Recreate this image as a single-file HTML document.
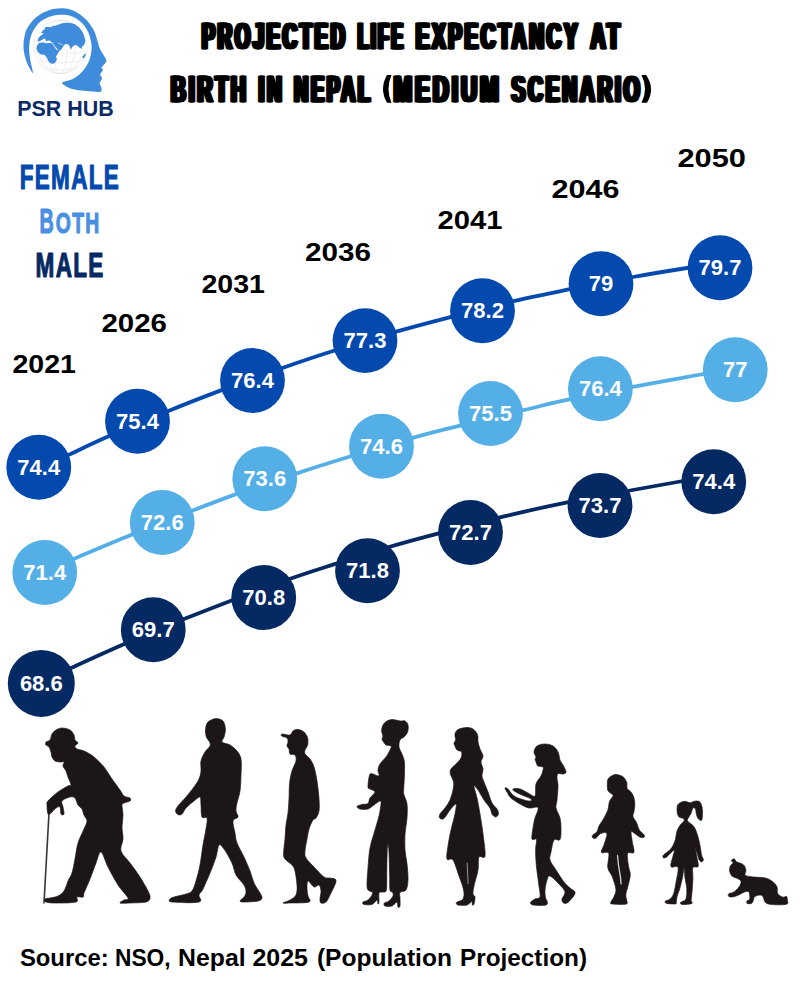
<!DOCTYPE html>
<html><head><meta charset="utf-8"><title>Projected Life Expectancy at Birth in Nepal</title>
<style>
html,body{margin:0;padding:0;background:#fff;}
body{width:800px;height:1000px;overflow:hidden;font-family:"Liberation Sans",sans-serif;}
svg{display:block;}
text{font-family:"Liberation Sans",sans-serif;}
.v{font-weight:bold;font-size:22px;fill:#fff;text-anchor:middle;}
.yr{font-weight:bold;font-size:25px;fill:#000;}
.ttl{font-weight:bold;font-size:37.6px;letter-spacing:5.4px;fill:#000;stroke:#000;stroke-width:0.5px;stroke-linejoin:miter;}
.lg{font-weight:bold;font-size:34.6px;letter-spacing:2px;stroke-width:1.2px;stroke-linejoin:round;}
.lgs{font-weight:bold;font-size:29.4px;letter-spacing:2px;stroke-width:1.2px;stroke-linejoin:round;}
.src{font-weight:bold;font-size:24.6px;fill:#000;}
.logo{font-weight:bold;font-size:22.3px;fill:#0d2b66;}
</style></head><body>
<svg width="800" height="1000" viewBox="0 0 800 1000">
<rect width="800" height="1000" fill="#fff"/>
<!-- logo -->
<path d="M32.9,72.9C32.3,73.3 28.2,66.0 26.7,61.9C25.1,57.8 23.8,52.9 23.5,48.1C23.3,43.3 24.0,37.4 25.3,33.0C26.6,28.6 28.9,25.2 31.5,22.0C34.1,18.8 37.5,15.9 41.1,13.8C44.8,11.6 49.4,9.8 53.5,8.9C57.6,8.1 62.0,8.0 65.9,8.5C69.8,9.1 73.4,10.5 76.9,12.4C80.3,14.3 83.8,17.1 86.5,19.9C89.2,22.8 91.6,26.2 93.4,29.6C95.2,32.9 96.2,36.8 97.2,39.9C98.3,43.0 98.6,45.7 99.6,48.1C100.5,50.5 101.9,52.2 103.0,54.3C104.1,56.4 106.3,58.8 106.4,60.5C106.6,62.2 104.9,63.5 104.1,64.6C103.3,65.8 101.8,66.5 101.6,67.4C101.4,68.3 103.1,69.2 103.0,70.1C102.9,71.0 101.4,72.1 100.9,72.9C100.5,73.7 100.1,74.1 100.2,74.9C100.4,75.7 101.8,76.7 101.9,77.7C102.0,78.7 101.3,80.2 100.9,81.1C100.5,82.0 99.6,82.3 99.6,83.2C99.6,84.1 100.6,85.5 100.9,86.6C101.3,87.8 101.8,89.2 101.6,90.1C101.5,90.9 101.6,91.6 100.0,91.9C98.4,92.1 95.2,91.7 92.0,91.4C88.8,91.2 84.4,90.9 81.0,90.5C77.6,90.0 73.9,89.4 71.4,88.7C68.9,88.0 67.4,87.2 65.9,86.2C64.4,85.2 61.3,83.8 62.4,82.6C63.6,81.4 69.4,80.9 72.8,79.1C76.1,77.2 79.6,74.6 82.4,71.5C85.1,68.4 87.7,64.6 89.2,60.5C90.8,56.4 91.7,51.3 91.6,46.8C91.5,42.2 90.3,37.1 88.6,33.0C86.8,28.9 84.1,24.9 81.0,22.0C77.9,19.1 73.4,17.0 70.0,15.8C66.6,14.6 63.8,14.7 60.4,14.8C56.9,15.0 53.0,15.4 49.4,16.8C45.7,18.2 41.4,20.4 38.4,23.4C35.4,26.3 33.0,30.5 31.5,34.4C30.0,38.3 29.4,42.6 29.2,46.8C28.9,50.9 29.5,54.8 30.1,59.1C30.7,63.5 33.4,72.4 32.9,72.9Z" fill="#3f8bdc"/>
<g fill="none" stroke="#e2e2e2" stroke-width="0.55">
<circle cx="60.4" cy="46.8" r="26.8"/>
<ellipse cx="60.4" cy="46.8" rx="6.7" ry="26.8"/>
<ellipse cx="60.4" cy="46.8" rx="14.7" ry="26.8"/>
<ellipse cx="60.4" cy="46.8" rx="22.0" ry="26.8"/>
<path d="M38.1,32.0 Q60.4,37.0 82.6,32.0"/>
<path d="M34.1,41.4 Q60.4,46.4 86.7,41.4"/>
<path d="M34.1,51.6 Q60.4,56.6 86.7,51.6"/>
<path d="M37.3,60.2 Q60.4,65.2 83.4,60.2"/>
<path d="M43.8,67.7 Q60.4,72.7 77.0,67.7"/>
</g>
<g fill="#3f8bdc">
<path d="M45.4,27.2C46.0,26.9 49.5,27.3 50.3,27.2C51.1,27.1 52.1,26.3 52.8,26.0C53.4,25.8 55.9,25.4 56.8,25.2C57.8,24.9 60.7,23.8 61.7,23.5C62.6,23.3 64.8,22.8 65.8,22.7C66.7,22.7 69.7,22.8 70.6,23.0C71.6,23.1 73.8,23.9 74.7,24.3C75.6,24.8 78.0,26.5 78.8,27.2C79.5,27.9 81.4,30.4 82.0,31.2C82.6,32.1 83.6,34.4 83.9,35.3C84.3,36.2 84.9,38.7 85.1,39.4C85.2,40.1 85.3,41.2 85.2,41.8C85.2,42.4 84.5,44.2 84.3,44.7C84.0,45.1 83.1,45.6 82.8,45.9C82.6,46.1 82.0,46.7 81.8,47.0C81.7,47.3 81.7,48.7 81.5,48.8C81.4,48.9 80.6,48.4 80.4,48.2C80.1,48.1 79.6,47.6 79.3,47.4C79.0,47.2 78.1,46.5 77.8,46.3C77.4,46.0 76.4,45.1 76.0,45.0C75.6,44.9 74.1,45.3 73.7,45.5C73.3,45.8 72.3,47.1 72.0,47.5C71.7,47.9 71.2,49.6 70.9,49.5C70.7,49.5 70.1,47.5 69.9,47.0C69.7,46.5 69.0,45.3 68.8,45.0C68.5,44.7 67.8,44.3 67.5,44.2C67.3,44.0 66.7,43.8 66.4,43.8C66.1,43.9 65.1,44.4 64.8,44.6C64.5,44.8 64.1,45.2 63.8,45.6C63.5,46.0 62.7,47.7 62.3,48.1C62.0,48.6 61.0,50.1 60.5,50.3C60.1,50.5 58.9,50.4 58.4,50.1C57.9,49.8 56.3,47.9 55.8,47.3C55.4,46.8 54.3,45.4 54.0,44.9C53.6,44.4 52.7,43.0 52.3,42.6C52.0,42.3 51.1,41.7 50.7,41.5C50.4,41.3 49.4,40.6 49.1,40.5C48.8,40.4 48.0,40.6 47.7,40.7C47.4,40.8 46.8,41.4 46.6,41.3C46.3,41.2 45.8,40.0 45.6,39.7C45.4,39.4 44.6,38.6 44.3,38.6C44.0,38.5 43.3,39.2 43.0,39.4C42.7,39.5 41.7,39.7 41.4,39.9C41.0,40.1 40.1,41.0 39.8,41.2C39.4,41.3 38.0,41.4 37.8,41.2C37.6,40.9 37.8,39.5 38.0,39.0C38.1,38.6 38.9,37.5 39.3,37.1C39.6,36.7 40.6,35.8 41.0,35.5C41.4,35.2 42.7,34.7 43.0,34.3C43.3,34.0 43.6,33.0 43.8,32.5C44.0,31.9 44.6,30.0 44.8,29.5C45.0,28.9 44.8,27.4 45.4,27.2Z"/>
<path d="M41.4,32.2C41.4,31.9 42.6,30.7 43.0,30.4C43.4,30.2 44.7,29.6 45.0,29.6C45.4,29.7 46.2,30.6 46.2,30.9C46.3,31.2 45.6,32.3 45.3,32.5C44.9,32.8 43.4,33.4 43.0,33.4C42.6,33.3 41.4,32.5 41.4,32.2Z"/>
<path d="M36.9,45.9C37.2,45.3 38.3,43.6 38.9,43.3C39.6,42.9 42.2,42.5 43.0,42.5C43.8,42.5 45.6,43.2 46.2,43.3C46.9,43.3 48.9,43.1 49.5,43.1C50.1,43.1 51.4,42.9 51.9,43.3C52.4,43.6 53.7,45.8 54.2,46.5C54.7,47.2 56.1,49.4 56.6,49.8C57.2,50.2 59.6,49.7 59.7,50.1C59.9,50.5 58.5,52.5 58.1,53.2C57.7,53.9 56.3,55.7 56.2,56.4C56.0,57.1 57.0,59.0 56.8,59.7C56.6,60.4 55.1,62.5 54.5,62.9C54.0,63.4 52.2,64.0 51.6,63.8C51.0,63.7 49.3,62.4 48.8,61.8C48.4,61.2 47.7,59.0 47.2,58.2C46.8,57.5 45.1,55.4 44.5,55.0C43.8,54.6 42.0,54.7 41.4,54.5C40.7,54.2 38.8,53.1 38.3,52.5C37.8,52.0 36.6,49.8 36.5,49.1C36.4,48.4 36.6,46.5 36.9,45.9Z"/>
<path d="M82.4,57.2C82.4,56.9 83.9,55.0 84.3,54.6C84.6,54.3 85.3,53.5 85.5,53.5C85.7,53.5 86.1,54.3 85.9,54.8C85.7,55.3 84.3,58.0 83.9,58.2C83.6,58.5 82.4,57.6 82.4,57.2Z"/>
</g>
<path d="M58.1,42.9 Q60.7,43.6 62.8,45.2" fill="none" stroke="#fff" stroke-width="0.6"/>
<text x="17.3" y="115.6" class="logo" textLength="96.4" lengthAdjust="spacingAndGlyphs">PSR HUB</text>

<!-- title -->
<text x="199.90" y="48.6" class="ttl" textLength="145.9" lengthAdjust="spacingAndGlyphs">PROJECTED</text>
<text x="200.55" y="48.6" class="ttl" textLength="145.9" lengthAdjust="spacingAndGlyphs">PROJECTED</text>
<text x="201.20" y="48.6" class="ttl" textLength="145.9" lengthAdjust="spacingAndGlyphs">PROJECTED</text>
<text x="201.80" y="48.6" class="ttl" textLength="145.9" lengthAdjust="spacingAndGlyphs">PROJECTED</text>
<text x="202.40" y="48.6" class="ttl" textLength="145.9" lengthAdjust="spacingAndGlyphs">PROJECTED</text>
<text x="203.05" y="48.6" class="ttl" textLength="145.9" lengthAdjust="spacingAndGlyphs">PROJECTED</text>
<text x="203.70" y="48.6" class="ttl" textLength="145.9" lengthAdjust="spacingAndGlyphs">PROJECTED</text>
<text x="355.90" y="48.6" class="ttl" textLength="47.6" lengthAdjust="spacingAndGlyphs">LIFE</text>
<text x="356.55" y="48.6" class="ttl" textLength="47.6" lengthAdjust="spacingAndGlyphs">LIFE</text>
<text x="357.20" y="48.6" class="ttl" textLength="47.6" lengthAdjust="spacingAndGlyphs">LIFE</text>
<text x="357.80" y="48.6" class="ttl" textLength="47.6" lengthAdjust="spacingAndGlyphs">LIFE</text>
<text x="358.40" y="48.6" class="ttl" textLength="47.6" lengthAdjust="spacingAndGlyphs">LIFE</text>
<text x="359.05" y="48.6" class="ttl" textLength="47.6" lengthAdjust="spacingAndGlyphs">LIFE</text>
<text x="359.70" y="48.6" class="ttl" textLength="47.6" lengthAdjust="spacingAndGlyphs">LIFE</text>
<text x="413.90" y="48.6" class="ttl" textLength="164.6" lengthAdjust="spacingAndGlyphs">EXPECTANCY</text>
<text x="414.55" y="48.6" class="ttl" textLength="164.6" lengthAdjust="spacingAndGlyphs">EXPECTANCY</text>
<text x="415.20" y="48.6" class="ttl" textLength="164.6" lengthAdjust="spacingAndGlyphs">EXPECTANCY</text>
<text x="415.80" y="48.6" class="ttl" textLength="164.6" lengthAdjust="spacingAndGlyphs">EXPECTANCY</text>
<text x="416.40" y="48.6" class="ttl" textLength="164.6" lengthAdjust="spacingAndGlyphs">EXPECTANCY</text>
<text x="417.05" y="48.6" class="ttl" textLength="164.6" lengthAdjust="spacingAndGlyphs">EXPECTANCY</text>
<text x="417.70" y="48.6" class="ttl" textLength="164.6" lengthAdjust="spacingAndGlyphs">EXPECTANCY</text>
<text x="588.80" y="48.6" class="ttl" textLength="32.0" lengthAdjust="spacingAndGlyphs">AT</text>
<text x="589.45" y="48.6" class="ttl" textLength="32.0" lengthAdjust="spacingAndGlyphs">AT</text>
<text x="590.10" y="48.6" class="ttl" textLength="32.0" lengthAdjust="spacingAndGlyphs">AT</text>
<text x="590.70" y="48.6" class="ttl" textLength="32.0" lengthAdjust="spacingAndGlyphs">AT</text>
<text x="591.30" y="48.6" class="ttl" textLength="32.0" lengthAdjust="spacingAndGlyphs">AT</text>
<text x="591.95" y="48.6" class="ttl" textLength="32.0" lengthAdjust="spacingAndGlyphs">AT</text>
<text x="592.60" y="48.6" class="ttl" textLength="32.0" lengthAdjust="spacingAndGlyphs">AT</text>
<text x="169.05" y="102.2" class="ttl" textLength="77.8" lengthAdjust="spacingAndGlyphs">BIRTH</text>
<text x="169.70" y="102.2" class="ttl" textLength="77.8" lengthAdjust="spacingAndGlyphs">BIRTH</text>
<text x="170.35" y="102.2" class="ttl" textLength="77.8" lengthAdjust="spacingAndGlyphs">BIRTH</text>
<text x="170.95" y="102.2" class="ttl" textLength="77.8" lengthAdjust="spacingAndGlyphs">BIRTH</text>
<text x="171.55" y="102.2" class="ttl" textLength="77.8" lengthAdjust="spacingAndGlyphs">BIRTH</text>
<text x="172.20" y="102.2" class="ttl" textLength="77.8" lengthAdjust="spacingAndGlyphs">BIRTH</text>
<text x="172.85" y="102.2" class="ttl" textLength="77.8" lengthAdjust="spacingAndGlyphs">BIRTH</text>
<text x="256.80" y="102.2" class="ttl" textLength="25.8" lengthAdjust="spacingAndGlyphs">IN</text>
<text x="257.45" y="102.2" class="ttl" textLength="25.8" lengthAdjust="spacingAndGlyphs">IN</text>
<text x="258.10" y="102.2" class="ttl" textLength="25.8" lengthAdjust="spacingAndGlyphs">IN</text>
<text x="258.70" y="102.2" class="ttl" textLength="25.8" lengthAdjust="spacingAndGlyphs">IN</text>
<text x="259.30" y="102.2" class="ttl" textLength="25.8" lengthAdjust="spacingAndGlyphs">IN</text>
<text x="259.95" y="102.2" class="ttl" textLength="25.8" lengthAdjust="spacingAndGlyphs">IN</text>
<text x="260.60" y="102.2" class="ttl" textLength="25.8" lengthAdjust="spacingAndGlyphs">IN</text>
<text x="292.30" y="102.2" class="ttl" textLength="78.5" lengthAdjust="spacingAndGlyphs">NEPAL</text>
<text x="292.95" y="102.2" class="ttl" textLength="78.5" lengthAdjust="spacingAndGlyphs">NEPAL</text>
<text x="293.60" y="102.2" class="ttl" textLength="78.5" lengthAdjust="spacingAndGlyphs">NEPAL</text>
<text x="294.20" y="102.2" class="ttl" textLength="78.5" lengthAdjust="spacingAndGlyphs">NEPAL</text>
<text x="294.80" y="102.2" class="ttl" textLength="78.5" lengthAdjust="spacingAndGlyphs">NEPAL</text>
<text x="295.45" y="102.2" class="ttl" textLength="78.5" lengthAdjust="spacingAndGlyphs">NEPAL</text>
<text x="296.10" y="102.2" class="ttl" textLength="78.5" lengthAdjust="spacingAndGlyphs">NEPAL</text>
<text x="391.80" y="102.2" class="ttl" textLength="108.0" lengthAdjust="spacingAndGlyphs">MEDIUM</text>
<text x="392.45" y="102.2" class="ttl" textLength="108.0" lengthAdjust="spacingAndGlyphs">MEDIUM</text>
<text x="393.10" y="102.2" class="ttl" textLength="108.0" lengthAdjust="spacingAndGlyphs">MEDIUM</text>
<text x="393.70" y="102.2" class="ttl" textLength="108.0" lengthAdjust="spacingAndGlyphs">MEDIUM</text>
<text x="394.30" y="102.2" class="ttl" textLength="108.0" lengthAdjust="spacingAndGlyphs">MEDIUM</text>
<text x="394.95" y="102.2" class="ttl" textLength="108.0" lengthAdjust="spacingAndGlyphs">MEDIUM</text>
<text x="395.60" y="102.2" class="ttl" textLength="108.0" lengthAdjust="spacingAndGlyphs">MEDIUM</text>
<text x="509.80" y="102.2" class="ttl" textLength="130.8" lengthAdjust="spacingAndGlyphs">SCENARIO</text>
<text x="510.45" y="102.2" class="ttl" textLength="130.8" lengthAdjust="spacingAndGlyphs">SCENARIO</text>
<text x="511.10" y="102.2" class="ttl" textLength="130.8" lengthAdjust="spacingAndGlyphs">SCENARIO</text>
<text x="511.70" y="102.2" class="ttl" textLength="130.8" lengthAdjust="spacingAndGlyphs">SCENARIO</text>
<text x="512.30" y="102.2" class="ttl" textLength="130.8" lengthAdjust="spacingAndGlyphs">SCENARIO</text>
<text x="512.95" y="102.2" class="ttl" textLength="130.8" lengthAdjust="spacingAndGlyphs">SCENARIO</text>
<text x="513.60" y="102.2" class="ttl" textLength="130.8" lengthAdjust="spacingAndGlyphs">SCENARIO</text>
<path d="M387,75 Q379,89 387,102.8 L391.5,102.8 Q385.5,89 391.5,75 Z" fill="#000"/>
<path d="M641.5,75 L646.2,75 Q655.5,89 647,102.8 L641.5,102.8 Q648.5,89 641.5,75 Z" fill="#000"/>

<!-- legend -->

<text x="19.8" y="189.3" class="lg" fill="#0449ae" stroke="#0449ae" textLength="100.2" lengthAdjust="spacingAndGlyphs">FEMALE</text>
<text x="39.6" y="232.9" class="lg" fill="#4a90e2" stroke="#4a90e2" textLength="15.4" lengthAdjust="spacingAndGlyphs">B</text>
<text x="55.8" y="232.9" class="lgs" fill="#4a90e2" stroke="#4a90e2" textLength="44.8" lengthAdjust="spacingAndGlyphs">OTH</text>
<text x="35.6" y="276.9" class="lg" fill="#042963" stroke="#042963" textLength="69" lengthAdjust="spacingAndGlyphs">MALE</text>

<!-- years -->
<text x="12.5" y="372.7" class="yr" textLength="63.5" lengthAdjust="spacingAndGlyphs">2021</text>
<text x="101.5" y="332.2" class="yr" textLength="65.5" lengthAdjust="spacingAndGlyphs">2026</text>
<text x="201.5" y="293.2" class="yr" textLength="63.5" lengthAdjust="spacingAndGlyphs">2031</text>
<text x="305.0" y="261.2" class="yr" textLength="66.0" lengthAdjust="spacingAndGlyphs">2036</text>
<text x="437.5" y="228.7" class="yr" textLength="65.0" lengthAdjust="spacingAndGlyphs">2041</text>
<text x="551.5" y="198.2" class="yr" textLength="68.0" lengthAdjust="spacingAndGlyphs">2046</text>
<text x="677.5" y="166.7" class="yr" textLength="68.5" lengthAdjust="spacingAndGlyphs">2050</text>

<!-- series -->
<path fill="none" stroke="#0449ae" stroke-width="3.8" d="M38.8,469.2C43.7,466.8 57.1,460.3 68.6,454.9C80.1,449.5 91.4,444.0 108.0,436.6C124.6,429.3 149.6,418.7 168.4,411.0C187.2,403.3 201.9,397.6 220.9,390.4C239.9,383.2 263.6,374.6 282.4,368.0C301.2,361.4 314.8,356.8 333.8,350.8C352.7,344.7 376.7,337.3 396.1,331.7C415.5,326.1 430.8,322.2 450.4,317.1C470.0,312.0 493.6,305.9 513.5,301.2C533.4,296.6 549.8,293.3 569.8,289.2C589.7,285.2 613.5,280.5 633.0,277.0C652.5,273.5 672.5,270.3 687.0,268.0C701.5,265.7 714.5,263.8 720.0,263.0"/>
<circle cx="38.75" cy="467.25" r="32.4" fill="#0449ae"/><text x="38.75" y="474.85" class="v">74.4</text>
<circle cx="137.50" cy="421.25" r="32.4" fill="#0449ae"/><text x="137.50" y="428.85" class="v">75.4</text>
<circle cx="252.50" cy="380.50" r="32.4" fill="#0449ae"/><text x="252.50" y="388.10" class="v">76.4</text>
<circle cx="365.00" cy="340.60" r="32.4" fill="#0449ae"/><text x="365.00" y="348.20" class="v">77.3</text>
<circle cx="482.50" cy="310.75" r="32.4" fill="#0449ae"/><text x="482.50" y="318.35" class="v">78.2</text>
<circle cx="601.00" cy="283.75" r="32.4" fill="#0449ae"/><text x="601.00" y="291.35" class="v">79</text>
<circle cx="720.00" cy="267.75" r="32.4" fill="#0449ae"/><text x="720.00" y="275.35" class="v">79.7</text>
<path fill="none" stroke="#53afe6" stroke-width="3.8" d="M44.8,571.3C49.8,569.1 60.4,564.5 74.9,558.4C89.4,552.3 111.9,542.7 131.5,534.8C151.1,526.8 174.9,517.4 192.4,510.6C209.9,503.8 218.9,500.3 236.2,494.1C253.6,487.9 277.8,479.7 296.8,473.4C315.7,467.1 330.7,462.4 350.0,456.5C369.3,450.6 394.4,442.9 412.8,437.8C431.1,432.6 441.6,430.2 460.0,425.6C478.4,421.0 505.1,414.6 523.2,410.2C541.4,405.9 549.9,403.5 569.0,399.4C588.1,395.3 616.5,390.0 638.0,385.9C659.5,381.8 681.8,377.9 698.0,375.0C714.2,372.1 728.8,369.8 735.0,368.8"/>
<circle cx="44.75" cy="572.50" r="32.4" fill="#53afe6"/><text x="44.75" y="580.10" class="v">71.4</text>
<circle cx="162.25" cy="522.50" r="32.4" fill="#53afe6"/><text x="162.25" y="530.10" class="v">72.6</text>
<circle cx="264.75" cy="478.75" r="32.4" fill="#53afe6"/><text x="264.75" y="486.35" class="v">73.6</text>
<circle cx="381.50" cy="446.25" r="32.4" fill="#53afe6"/><text x="381.50" y="453.85" class="v">74.6</text>
<circle cx="490.50" cy="413.50" r="32.4" fill="#53afe6"/><text x="490.50" y="421.10" class="v">75.5</text>
<circle cx="600.40" cy="388.75" r="32.4" fill="#53afe6"/><text x="600.40" y="396.35" class="v">76.4</text>
<circle cx="735.25" cy="369.75" r="32.4" fill="#53afe6"/><text x="735.25" y="377.35" class="v">77</text>
<path fill="none" stroke="#042963" stroke-width="3.8" d="M41.2,681.8C46.3,679.5 57.8,674.0 71.5,667.8C85.2,661.5 104.5,652.6 123.2,644.5C142.0,636.4 165.9,626.5 184.0,619.1C202.1,611.8 213.8,607.2 231.6,600.4C249.4,593.6 273.7,584.6 291.0,578.5C308.3,572.4 318.8,569.2 335.2,563.9C351.7,558.6 372.7,551.8 389.8,546.8C406.8,541.7 418.5,538.7 437.8,533.6C457.0,528.5 483.8,521.4 505.0,516.2C526.2,511.1 544.2,507.0 565.0,502.8C585.8,498.5 610.8,494.0 630.0,490.5C649.2,487.0 666.3,483.9 680.2,481.5C694.2,479.1 708.2,476.8 713.8,475.8"/>
<circle cx="41.30" cy="683.40" r="33.5" fill="#042963"/><text x="41.30" y="691.00" class="v">68.6</text>
<circle cx="153.25" cy="629.75" r="32.4" fill="#042963"/><text x="153.25" y="637.35" class="v">69.7</text>
<circle cx="263.75" cy="597.50" r="32.4" fill="#042963"/><text x="263.75" y="605.10" class="v">70.8</text>
<circle cx="367.50" cy="570.75" r="32.4" fill="#042963"/><text x="367.50" y="578.35" class="v">71.8</text>
<circle cx="470.50" cy="532.50" r="32.4" fill="#042963"/><text x="470.50" y="540.10" class="v">72.7</text>
<circle cx="600.00" cy="505.50" r="32.4" fill="#042963"/><text x="600.00" y="513.10" class="v">73.7</text>
<circle cx="713.75" cy="481.75" r="32.4" fill="#042963"/><text x="713.75" y="489.35" class="v">74.4</text>

<!-- silhouettes -->
<defs><filter id="soft" x="-0.05" y="-0.05" width="1.1" height="1.1"><feGaussianBlur stdDeviation="0.45"/></filter></defs>
<g filter="url(#soft)">
<g fill="#1b1919" stroke="#1b1919" stroke-width="0.7" stroke-linejoin="round">
<path d="M62.0,728.0C64.3,728.0 68.0,728.8 70.0,730.0C72.0,731.2 73.2,733.3 74.0,735.0C74.8,736.7 74.3,738.7 75.0,740.0C75.7,741.3 78.0,742.0 78.0,743.0C78.0,744.0 75.2,745.0 75.0,746.0C74.8,747.0 75.5,748.2 77.0,749.0C78.5,749.8 81.2,749.7 84.0,751.0C86.8,752.3 90.7,754.3 94.0,757.0C97.3,759.7 101.0,763.3 104.0,767.0C107.0,770.7 109.3,775.2 112.0,779.0C114.7,782.8 118.0,787.2 120.0,790.0C122.0,792.8 122.3,794.7 124.0,796.0C125.7,797.3 129.0,797.2 130.0,798.0C131.0,798.8 131.0,800.2 130.0,801.0C129.0,801.8 125.3,802.3 124.0,803.0C122.7,803.7 122.2,803.0 122.0,805.0C121.8,807.0 123.0,811.3 123.0,815.0C123.0,818.7 122.0,823.0 122.0,827.0C122.0,831.0 123.2,835.0 123.0,839.0C122.8,843.0 119.8,847.0 121.0,851.0C122.2,855.0 126.8,858.7 130.0,863.0C133.2,867.3 137.0,872.3 140.0,877.0C143.0,881.7 146.3,887.5 148.0,891.0C149.7,894.5 150.3,896.2 150.0,898.0C149.7,899.8 149.3,901.2 146.0,902.0C142.7,902.8 134.3,902.8 130.0,903.0C125.7,903.2 121.0,903.5 120.0,903.0C119.0,902.5 122.7,900.8 124.0,900.0C125.3,899.2 129.0,900.5 128.0,898.0C127.0,895.5 121.3,890.2 118.0,885.0C114.7,879.8 110.8,872.5 108.0,867.0C105.2,861.5 103.0,852.7 101.0,852.0C99.0,851.3 97.8,858.5 96.0,863.0C94.2,867.5 92.0,874.0 90.0,879.0C88.0,884.0 85.2,890.0 84.0,893.0C82.8,896.0 84.2,896.3 83.0,897.0C81.8,897.7 78.2,896.2 77.0,897.0C75.8,897.8 79.5,901.0 76.0,902.0C72.5,903.0 61.0,903.0 56.0,903.0C51.0,903.0 47.8,902.7 46.0,902.0C44.2,901.3 44.3,899.7 45.0,899.0C45.7,898.3 47.8,898.5 50.0,898.0C52.2,897.5 55.7,897.2 58.0,896.0C60.3,894.8 62.3,893.5 64.0,891.0C65.7,888.5 66.7,884.0 68.0,881.0C69.3,878.0 70.8,876.7 72.0,873.0C73.2,869.3 74.0,864.0 75.0,859.0C76.0,854.0 76.5,848.0 78.0,843.0C79.5,838.0 82.5,832.7 84.0,829.0C85.5,825.3 87.0,823.3 87.0,821.0C87.0,818.7 84.8,817.0 84.0,815.0C83.2,813.0 83.0,810.7 82.0,809.0C81.0,807.3 79.2,806.8 78.0,805.0C76.8,803.2 76.3,799.3 75.0,798.0C73.7,796.7 72.2,796.5 70.0,797.0C67.8,797.5 63.2,799.3 62.0,801.0C60.8,802.7 62.7,804.8 63.0,807.0C63.3,809.2 64.3,812.8 64.0,814.0C63.7,815.2 61.7,815.2 61.0,814.0C60.3,812.8 60.8,808.0 60.0,807.0C59.2,806.0 57.5,807.0 56.0,808.0C54.5,809.0 52.3,812.0 51.0,813.0C49.7,814.0 48.7,815.3 48.0,814.0C47.3,812.7 47.0,807.2 47.0,805.0C47.0,802.8 46.2,803.2 48.0,801.0C49.8,798.8 54.7,794.5 58.0,792.0C61.3,789.5 65.8,787.2 68.0,786.0C70.2,784.8 71.0,786.5 71.0,785.0C71.0,783.5 68.8,779.3 68.0,777.0C67.2,774.7 66.8,772.8 66.0,771.0C65.2,769.2 63.3,767.5 63.0,766.0C62.7,764.5 64.5,762.7 64.0,762.0C63.5,761.3 61.5,762.2 60.0,762.0C58.5,761.8 56.3,761.8 55.0,761.0C53.7,760.2 52.7,758.5 52.0,757.0C51.3,755.5 51.5,753.7 51.0,752.0C50.5,750.3 49.8,748.2 49.0,747.0C48.2,745.8 46.5,745.8 46.0,745.0C45.5,744.2 45.3,742.8 46.0,742.0C46.7,741.2 49.0,741.3 50.0,740.0C51.0,738.7 51.0,735.7 52.0,734.0C53.0,732.3 54.3,731.0 56.0,730.0C57.7,729.0 59.7,728.0 62.0,728.0Z"/>
<path d="M215.6,718.6C218.1,718.4 221.4,719.3 223.0,721.0C224.6,722.7 225.2,726.3 225.4,729.0C225.6,731.7 224.6,734.8 224.0,737.0C223.4,739.2 221.0,740.7 222.0,742.0C223.0,743.3 227.5,743.5 230.0,745.0C232.5,746.5 235.2,748.7 237.0,751.0C238.8,753.3 240.3,755.0 241.0,759.0C241.7,763.0 241.2,769.7 241.0,775.0C240.8,780.3 240.7,786.3 240.0,791.0C239.3,795.7 237.7,799.7 237.0,803.0C236.3,806.3 235.8,808.7 236.0,811.0C236.2,813.3 238.5,815.3 238.0,817.0C237.5,818.7 233.5,818.3 233.0,821.0C232.5,823.7 234.3,829.3 235.0,833.0C235.7,836.7 235.5,839.0 237.0,843.0C238.5,847.0 241.8,852.3 244.0,857.0C246.2,861.7 248.3,866.7 250.0,871.0C251.7,875.3 252.3,879.3 254.0,883.0C255.7,886.7 258.7,890.5 260.0,893.0C261.3,895.5 262.3,896.7 262.0,898.0C261.7,899.3 261.0,900.3 258.0,901.0C255.0,901.7 247.0,902.0 244.0,902.0C241.0,902.0 240.0,901.8 240.0,901.0C240.0,900.2 243.0,898.5 244.0,897.0C245.0,895.5 246.0,894.0 246.0,892.0C246.0,890.0 245.7,887.8 244.0,885.0C242.3,882.2 238.0,878.7 236.0,875.0C234.0,871.3 234.0,867.3 232.0,863.0C230.0,858.7 226.2,852.0 224.0,849.0C221.8,846.0 220.3,843.7 219.0,845.0C217.7,846.3 217.5,852.3 216.0,857.0C214.5,861.7 212.2,867.7 210.0,873.0C207.8,878.3 204.8,885.3 203.0,889.0C201.2,892.7 199.7,892.8 199.0,895.0C198.3,897.2 203.5,900.8 199.0,902.0C194.5,903.2 176.8,902.5 172.0,902.0C167.2,901.5 169.7,899.8 170.0,899.0C170.3,898.2 171.3,897.8 174.0,897.0C176.7,896.2 183.0,895.0 186.0,894.0C189.0,893.0 190.3,893.2 192.0,891.0C193.7,888.8 194.7,885.3 196.0,881.0C197.3,876.7 198.8,871.0 200.0,865.0C201.2,859.0 202.0,851.0 203.0,845.0C204.0,839.0 205.3,833.5 206.0,829.0C206.7,824.5 207.7,820.0 207.0,818.0C206.3,816.0 203.0,819.2 202.0,817.0C201.0,814.8 201.3,808.3 201.0,805.0C200.7,801.7 201.2,797.7 200.0,797.0C198.8,796.3 196.3,799.2 194.0,801.0C191.7,802.8 188.0,805.8 186.0,808.0C184.0,810.2 183.3,812.9 182.0,814.0C180.7,815.1 179.1,815.1 178.0,814.6C176.9,814.1 175.6,812.4 175.6,811.0C175.6,809.6 176.3,808.3 178.0,806.0C179.7,803.7 183.3,800.2 186.0,797.0C188.7,793.8 191.8,790.0 194.0,787.0C196.2,784.0 197.8,781.7 199.0,779.0C200.2,776.3 200.7,774.0 201.0,771.0C201.3,768.0 200.3,764.2 201.0,761.0C201.7,757.8 203.5,754.5 205.0,752.0C206.5,749.5 209.2,747.7 210.0,746.0C210.8,744.3 210.2,743.5 209.6,742.0C209.0,740.5 207.1,739.2 206.4,737.0C205.7,734.8 205.3,731.5 205.6,729.0C205.9,726.5 206.3,723.7 208.0,722.0C209.7,720.3 213.1,718.8 215.6,718.6Z"/>
<path d="M298.0,729.4C299.8,729.6 302.4,730.6 304.0,732.0C305.6,733.4 307.0,735.8 307.6,738.0C308.2,740.2 308.0,743.0 307.6,745.0C307.2,747.0 305.4,748.5 305.0,750.0C304.6,751.5 304.2,752.5 305.0,754.0C305.8,755.5 308.5,756.8 310.0,759.0C311.5,761.2 312.8,763.3 314.0,767.0C315.2,770.7 316.2,775.7 317.0,781.0C317.8,786.3 318.7,794.0 319.0,799.0C319.3,804.0 319.5,807.8 319.0,811.0C318.5,814.2 317.0,816.5 316.0,818.0C315.0,819.5 314.2,818.2 313.0,820.0C311.8,821.8 310.0,825.8 309.0,829.0C308.0,832.2 307.7,835.3 307.0,839.0C306.3,842.7 305.2,847.8 305.0,851.0C304.8,854.2 304.5,855.3 306.0,858.0C307.5,860.7 311.0,863.8 314.0,867.0C317.0,870.2 321.5,875.2 324.0,877.0C326.5,878.8 327.2,877.7 329.0,878.0C330.8,878.3 333.9,878.2 335.0,879.0C336.1,879.8 336.4,880.3 335.6,883.0C334.8,885.7 331.6,891.8 330.0,895.0C328.4,898.2 327.5,900.7 326.0,902.0C324.5,903.3 322.0,903.5 321.0,903.0C320.0,902.5 320.0,901.0 320.0,899.0C320.0,897.0 321.2,893.3 321.0,891.0C320.8,888.7 320.2,885.7 319.0,885.0C317.8,884.3 315.8,887.7 314.0,887.0C312.2,886.3 309.2,880.7 308.0,881.0C306.8,881.3 307.0,886.5 307.0,889.0C307.0,891.5 307.7,893.8 308.0,896.0C308.3,898.2 312.0,900.8 309.0,902.0C306.0,903.2 294.3,902.8 290.0,903.0C285.7,903.2 283.0,903.5 283.0,903.0C283.0,902.5 287.8,901.3 290.0,900.0C292.2,898.7 294.8,897.5 296.0,895.0C297.2,892.5 297.2,889.0 297.0,885.0C296.8,881.0 295.8,874.3 295.0,871.0C294.2,867.7 293.7,867.0 292.0,865.0C290.3,863.0 286.4,861.0 285.0,859.0C283.6,857.0 283.6,856.3 283.6,853.0C283.6,849.7 284.6,843.7 285.0,839.0C285.4,834.3 285.5,829.3 286.0,825.0C286.5,820.7 287.5,817.3 288.0,813.0C288.5,808.7 288.7,804.0 289.0,799.0C289.3,794.0 289.1,787.7 289.6,783.0C290.1,778.3 290.9,774.7 292.0,771.0C293.1,767.3 295.5,763.7 296.0,761.0C296.5,758.3 296.0,756.2 295.0,755.0C294.0,753.8 291.0,755.0 290.0,754.0C289.0,753.0 289.5,750.3 289.0,749.0C288.5,747.7 287.2,747.2 287.0,746.0C286.8,744.8 288.0,743.3 288.0,742.0C288.0,740.7 288.1,739.0 287.0,738.0C285.9,737.0 282.4,736.7 281.6,736.0C280.8,735.3 281.0,734.2 282.4,734.0C283.8,733.8 288.2,735.5 290.0,735.0C291.8,734.5 291.7,731.9 293.0,731.0C294.3,730.1 296.2,729.2 298.0,729.4Z"/>
<path d="M393.0,719.6C395.2,719.6 398.0,720.8 400.0,721.0C402.0,721.2 403.7,720.3 405.0,721.0C406.3,721.7 407.6,723.2 408.0,725.0C408.4,726.8 408.3,730.0 407.6,732.0C406.9,734.0 405.3,735.7 404.0,737.0C402.7,738.3 400.8,738.3 400.0,740.0C399.2,741.7 398.7,744.7 399.0,747.0C399.3,749.3 401.1,751.5 402.0,754.0C402.9,756.5 404.0,758.3 404.4,762.0C404.8,765.7 404.5,771.3 404.4,776.0C404.3,780.7 403.7,786.8 403.6,790.0C403.5,793.2 403.4,792.7 404.0,795.0C404.6,797.3 406.5,800.2 407.0,804.0C407.5,807.8 407.3,813.0 407.0,818.0C406.7,823.0 405.3,828.7 405.0,834.0C404.7,839.3 404.7,845.0 405.0,850.0C405.3,855.0 406.5,859.0 407.0,864.0C407.5,869.0 408.2,875.7 408.0,880.0C407.8,884.3 407.3,887.9 406.0,890.0C404.7,892.1 401.0,891.1 400.0,892.4C399.0,893.7 400.0,895.7 400.0,898.0C400.0,900.3 400.3,904.5 400.0,906.0C399.7,907.5 398.5,907.7 398.0,907.0C397.5,906.3 398.0,902.2 397.0,902.0C396.0,901.8 394.0,905.3 392.0,906.0C390.0,906.7 386.3,906.5 385.0,906.0C383.7,905.5 383.7,903.8 384.4,903.0C385.1,902.2 387.6,902.2 389.0,901.0C390.4,899.8 392.4,897.5 393.0,896.0C393.6,894.5 392.9,893.0 392.4,892.0C391.9,891.0 390.5,893.0 390.0,890.0C389.5,887.0 389.8,880.0 389.6,874.0C389.4,868.0 389.3,859.0 389.0,854.0C388.7,849.0 388.3,844.0 388.0,844.0C387.7,844.0 387.4,849.0 387.2,854.0C387.0,859.0 386.9,868.0 386.8,874.0C386.7,880.0 387.0,887.0 386.4,890.0C385.8,893.0 384.2,891.5 383.0,892.0C381.8,892.5 379.7,891.3 379.0,893.0C378.3,894.7 379.2,900.2 379.0,902.0C378.8,903.8 378.3,904.3 378.0,904.0C377.7,903.7 378.0,899.9 377.0,900.0C376.0,900.1 374.2,903.7 372.0,904.4C369.8,905.1 365.5,904.8 364.0,904.4C362.5,904.0 362.3,902.7 363.0,902.0C363.7,901.3 366.5,901.2 368.0,900.0C369.5,898.8 371.3,896.3 372.0,895.0C372.7,893.7 372.7,892.8 372.0,892.0C371.3,891.2 368.8,891.3 368.0,890.0C367.2,888.7 367.0,887.7 367.0,884.0C367.0,880.3 367.5,874.0 368.0,868.0C368.5,862.0 368.8,854.3 370.0,848.0C371.2,841.7 373.5,835.3 375.0,830.0C376.5,824.7 378.0,820.3 379.0,816.0C380.0,811.7 380.8,806.5 381.0,804.0C381.2,801.5 381.2,800.8 380.0,801.0C378.8,801.2 376.0,803.7 374.0,805.0C372.0,806.3 370.3,808.3 368.0,809.0C365.7,809.7 361.8,809.4 360.0,809.0C358.2,808.6 356.7,807.2 357.0,806.4C357.3,805.6 360.2,804.9 362.0,804.4C363.8,803.9 366.7,804.7 368.0,803.6C369.3,802.5 368.8,799.9 370.0,798.0C371.2,796.1 375.0,793.5 375.0,792.0C375.0,790.5 371.2,789.8 370.0,789.0C368.8,788.2 368.1,789.3 368.0,787.0C367.9,784.7 368.8,777.2 369.6,775.0C370.4,772.8 371.4,773.8 373.0,774.0C374.6,774.2 378.2,776.7 379.0,776.0C379.8,775.3 377.8,772.0 378.0,770.0C378.2,768.0 378.7,766.2 380.0,764.0C381.3,761.8 384.3,759.3 386.0,757.0C387.7,754.7 389.2,751.8 390.0,750.0C390.8,748.2 391.7,746.8 391.0,746.0C390.3,745.2 387.2,745.7 386.0,745.0C384.8,744.3 384.3,743.0 383.6,742.0C382.9,741.0 382.1,740.0 382.0,739.0C381.9,738.0 383.1,737.3 383.0,736.0C382.9,734.7 381.6,732.8 381.6,731.0C381.6,729.2 382.1,726.7 383.0,725.0C383.9,723.3 385.3,721.9 387.0,721.0C388.7,720.1 390.8,719.6 393.0,719.6Z"/>
<path d="M466.0,727.6C468.5,727.5 471.1,727.8 473.0,729.0C474.9,730.2 476.8,732.8 477.6,735.0C478.4,737.2 477.6,739.7 478.0,742.0C478.4,744.3 479.2,746.7 480.0,749.0C480.8,751.3 482.8,753.8 483.0,756.0C483.2,758.2 481.0,759.8 481.0,762.0C481.0,764.2 482.8,766.7 483.0,769.0C483.2,771.3 481.8,773.8 482.0,776.0C482.2,778.2 483.0,779.3 484.0,782.0C485.0,784.7 486.7,788.5 488.0,792.0C489.3,795.5 490.5,800.2 492.0,803.0C493.5,805.8 495.9,807.2 497.0,809.0C498.1,810.8 498.6,812.7 498.4,814.0C498.2,815.3 496.7,817.0 495.6,817.0C494.5,817.0 492.9,815.5 492.0,814.0C491.1,812.5 491.3,810.3 490.0,808.0C488.7,805.7 486.0,803.0 484.0,800.0C482.0,797.0 479.7,792.3 478.0,790.0C476.3,787.7 474.2,784.7 474.0,786.0C473.8,787.3 476.0,793.3 477.0,798.0C478.0,802.7 479.0,808.0 480.0,814.0C481.0,820.0 482.2,827.0 483.0,834.0C483.8,841.0 485.7,852.2 485.0,856.0C484.3,859.8 480.2,854.7 479.0,857.0C477.8,859.3 478.8,865.2 478.0,870.0C477.2,874.8 474.8,882.0 474.0,886.0C473.2,890.0 472.8,892.2 473.0,894.0C473.2,895.8 474.8,895.3 475.0,897.0C475.2,898.7 474.4,902.7 474.0,904.0C473.6,905.3 472.8,905.4 472.4,905.0C472.0,904.6 472.5,901.6 471.6,901.6C470.7,901.6 469.3,904.4 467.0,905.0C464.7,905.6 459.7,905.4 458.0,905.0C456.3,904.6 455.8,903.4 456.6,902.4C457.4,901.4 461.8,901.1 463.0,899.0C464.2,896.9 464.3,893.8 463.6,890.0C462.9,886.2 460.8,881.0 459.0,876.0C457.2,871.0 455.0,862.8 453.0,860.0C451.0,857.2 447.8,861.3 447.0,859.0C446.2,856.7 447.3,850.8 448.0,846.0C448.7,841.2 449.8,835.3 451.0,830.0C452.2,824.7 454.2,818.3 455.0,814.0C455.8,809.7 456.8,804.7 456.0,804.0C455.2,803.3 451.7,808.0 450.0,810.0C448.3,812.0 447.2,814.5 446.0,816.0C444.8,817.5 444.1,818.7 443.0,819.0C441.9,819.3 440.1,818.8 439.6,818.0C439.1,817.2 439.1,815.7 440.0,814.0C440.9,812.3 443.3,810.3 445.0,808.0C446.7,805.7 448.7,803.0 450.0,800.0C451.3,797.0 452.4,793.0 453.0,790.0C453.6,787.0 454.0,784.7 453.6,782.0C453.2,779.3 450.8,776.2 450.4,774.0C450.0,771.8 449.9,770.8 451.0,769.0C452.1,767.2 455.3,764.8 457.0,763.0C458.7,761.2 460.2,759.8 461.0,758.0C461.8,756.2 462.3,753.3 461.6,752.0C460.9,750.7 458.1,751.0 457.0,750.0C455.9,749.0 455.5,747.2 455.0,746.0C454.5,744.8 453.9,744.0 454.0,743.0C454.1,742.0 455.4,741.5 455.6,740.0C455.8,738.5 454.6,735.7 455.0,734.0C455.4,732.3 456.2,730.7 458.0,729.6C459.8,728.5 463.5,727.7 466.0,727.6Z"/>
<path d="M545.0,744.0C547.7,744.0 550.8,744.7 553.0,746.0C555.2,747.3 556.8,749.7 558.0,752.0C559.2,754.3 559.2,757.8 560.0,760.0C560.8,762.2 562.0,763.0 563.0,765.0C564.0,767.0 566.0,770.5 566.0,772.0C566.0,773.5 564.3,773.7 563.0,774.0C561.7,774.3 559.0,772.9 558.0,773.6C557.0,774.3 557.0,775.9 557.0,778.0C557.0,780.1 558.0,782.3 558.0,786.0C558.0,789.7 557.3,796.3 557.0,800.0C556.7,803.7 555.5,805.0 556.0,808.0C556.5,811.0 559.2,814.7 560.0,818.0C560.8,821.3 561.0,824.4 561.0,828.0C561.0,831.6 561.2,837.6 560.0,839.6C558.8,841.6 555.5,837.9 554.0,840.0C552.5,842.1 551.7,848.7 551.0,852.0C550.3,855.3 549.2,857.0 550.0,860.0C550.8,863.0 553.7,866.3 556.0,870.0C558.3,873.7 561.7,879.0 564.0,882.0C566.3,885.0 568.2,886.3 570.0,888.0C571.8,889.7 574.5,890.5 575.0,892.0C575.5,893.5 574.3,895.2 573.0,897.0C571.7,898.8 568.7,902.1 567.0,903.0C565.3,903.9 563.8,903.1 563.0,902.4C562.2,901.7 561.7,900.7 562.0,899.0C562.3,897.3 565.5,894.5 565.0,892.0C564.5,889.5 561.5,886.7 559.0,884.0C556.5,881.3 552.0,876.7 550.0,876.0C548.0,875.3 547.8,877.7 547.0,880.0C546.2,882.3 545.2,887.0 545.0,890.0C544.8,893.0 545.3,896.2 545.6,898.0C545.9,899.8 546.9,899.8 547.0,901.0C547.1,902.2 548.3,904.3 546.0,905.0C543.7,905.7 535.6,905.4 533.0,905.0C530.4,904.6 530.3,903.4 530.6,902.4C530.9,901.4 533.4,899.9 535.0,899.0C536.6,898.1 539.3,899.2 540.0,897.0C540.7,894.8 539.6,891.2 539.0,886.0C538.4,880.8 537.0,872.0 536.4,866.0C535.8,860.0 535.6,854.4 535.6,850.0C535.6,845.6 537.0,841.4 536.4,839.6C535.8,837.8 532.6,840.9 532.0,839.0C531.4,837.1 532.5,831.5 533.0,828.0C533.5,824.5 534.2,821.0 535.0,818.0C535.8,815.0 537.7,811.8 538.0,810.0C538.3,808.2 538.5,807.3 537.0,807.0C535.5,806.7 531.8,808.5 529.0,808.0C526.2,807.5 523.0,805.7 520.0,804.0C517.0,802.3 513.2,800.0 511.0,798.0C508.8,796.0 508.0,793.7 507.0,792.0C506.0,790.3 504.8,788.5 505.0,788.0C505.2,787.5 506.5,787.7 508.0,789.0C509.5,790.3 511.3,794.2 514.0,796.0C516.7,797.8 521.3,799.2 524.0,800.0C526.7,800.8 528.8,801.2 530.0,801.0C531.2,800.8 532.3,800.0 531.0,799.0C529.7,798.0 524.7,796.2 522.0,795.0C519.3,793.8 516.5,792.6 515.0,791.6C513.5,790.6 512.2,789.4 513.0,789.0C513.8,788.6 517.5,788.3 520.0,789.0C522.5,789.7 525.5,791.8 528.0,793.0C530.5,794.2 533.7,797.5 535.0,796.0C536.3,794.5 535.0,787.3 536.0,784.0C537.0,780.7 539.8,778.3 541.0,776.0C542.2,773.7 542.7,771.5 543.0,770.0C543.3,768.5 543.8,767.7 543.0,767.0C542.2,766.3 539.2,766.8 538.0,766.0C536.8,765.2 536.5,763.2 536.0,762.0C535.5,760.8 535.0,759.8 535.0,759.0C535.0,758.2 536.2,758.2 536.0,757.0C535.8,755.8 533.8,753.8 534.0,752.0C534.2,750.2 535.2,747.3 537.0,746.0C538.8,744.7 542.3,744.0 545.0,744.0Z"/>
<path d="M616.4,774.5C618.4,774.7 621.4,775.6 623.1,776.9C624.8,778.2 626.0,780.3 626.7,782.3C627.4,784.2 626.5,786.9 627.2,788.6C628.0,790.2 630.1,790.7 631.2,792.2C632.3,793.7 633.3,795.5 633.9,797.6C634.5,799.7 634.8,802.4 634.8,804.8C634.8,807.2 634.2,810.0 633.9,812.0C633.6,813.9 632.5,814.7 633.0,816.5C633.4,818.3 635.5,820.5 636.6,822.8C637.6,825.0 638.1,828.0 639.3,830.0C640.5,831.9 643.0,833.3 643.8,834.5C644.6,835.7 644.7,836.7 644.1,837.2C643.5,837.6 641.7,837.8 640.2,837.2C638.6,836.6 636.3,834.5 634.8,833.6C633.3,832.7 631.6,830.6 631.2,831.8C630.7,833.0 631.6,837.3 632.1,840.7C632.5,844.2 634.6,850.3 633.9,852.4C633.1,854.5 628.5,851.1 627.6,853.3C626.7,855.6 628.0,862.3 628.5,865.9C628.9,869.5 630.4,871.3 630.3,874.9C630.1,878.5 628.3,884.2 627.6,887.5C626.8,890.8 625.9,892.6 625.8,894.7C625.6,896.8 626.6,898.6 626.7,900.1C626.7,901.7 628.5,903.4 626.1,904.1C623.7,904.7 614.8,904.4 612.3,904.1C609.8,903.7 610.7,903.2 611.0,901.9C611.3,900.7 613.3,898.6 614.1,896.5C614.9,894.4 616.2,892.6 615.9,889.3C615.6,886.0 613.6,880.3 612.3,876.7C610.9,873.1 608.4,871.6 607.8,867.7C607.2,863.8 609.7,855.9 608.7,853.3C607.6,850.8 602.2,853.9 601.5,852.4C600.7,850.9 603.3,847.5 604.2,844.3C605.1,841.2 607.5,835.4 606.9,833.6C606.3,831.8 602.4,832.8 600.6,833.6C598.8,834.3 597.3,837.3 596.1,838.1C594.8,838.8 593.6,838.5 593.0,838.1C592.4,837.6 591.8,836.4 592.5,835.4C593.1,834.3 595.9,833.3 597.0,831.8C598.0,830.3 597.7,828.5 598.8,826.4C599.8,824.3 601.8,821.9 603.3,819.2C604.8,816.5 606.7,813.2 607.8,810.2C608.8,807.2 608.7,803.6 609.6,801.2C610.5,798.8 613.0,797.1 613.2,795.8C613.3,794.4 611.4,794.0 610.5,793.1C609.6,792.2 608.3,791.7 607.8,790.4C607.3,789.0 607.4,786.8 607.4,785.0C607.4,783.2 607.1,781.1 607.8,779.6C608.4,778.1 609.9,776.8 611.4,776.0C612.8,775.1 614.5,774.4 616.4,774.5Z"/>
<path d="M684.1,801.4C686.2,801.1 688.6,802.8 690.2,802.8C691.9,802.8 692.3,801.6 693.8,801.4C695.2,801.1 697.7,800.7 699.0,801.4C700.3,802.0 701.0,803.5 701.6,805.4C702.2,807.2 702.5,809.9 702.5,812.4C702.5,814.9 702.4,819.2 701.6,820.2C700.9,821.3 699.0,819.5 698.1,818.5C697.2,817.5 696.8,815.7 696.4,814.1C695.9,812.5 696.1,809.9 695.5,808.9C694.9,807.9 693.6,807.3 692.9,808.0C692.1,808.7 691.9,811.6 691.1,813.2C690.4,814.9 689.1,816.3 688.5,817.6C687.9,818.9 686.8,819.7 687.6,821.1C688.5,822.6 692.1,824.2 693.8,826.4C695.4,828.6 696.2,831.2 697.2,834.2C698.3,837.3 699.1,841.2 699.9,844.8C700.6,848.2 701.0,852.8 701.6,855.2C702.2,857.7 703.4,858.5 703.4,859.6C703.4,860.7 702.4,861.9 701.6,861.9C700.9,861.9 699.7,861.0 699.0,859.6C698.3,858.2 698.0,855.7 697.2,853.5C696.5,851.3 695.4,848.8 694.6,846.5C693.9,844.2 692.7,838.9 692.9,839.5C693.0,840.1 694.8,846.8 695.5,850.0C696.2,853.2 696.8,856.0 697.2,858.8C697.7,861.5 698.9,865.2 698.1,866.6C697.4,868.1 693.8,865.6 692.9,867.5C692.0,869.4 693.0,873.9 692.9,878.0C692.7,882.1 692.3,888.2 692.0,892.0C691.7,895.8 691.1,898.9 691.1,900.8C691.1,902.6 693.5,902.7 692.0,903.4C690.5,904.0 684.3,904.7 682.4,904.6C680.5,904.5 680.0,903.4 680.6,902.5C681.2,901.6 684.9,901.3 685.9,899.0C686.9,896.7 686.9,892.0 686.8,888.5C686.6,885.0 685.4,881.4 685.0,878.0C684.6,874.6 684.6,868.4 684.1,868.4C683.7,868.4 683.1,874.6 682.4,878.0C681.6,881.4 680.6,885.4 679.8,888.5C678.9,891.6 677.7,894.0 677.1,896.4C676.5,898.7 676.5,901.2 676.2,902.5C676.0,903.8 677.0,903.8 675.4,903.9C673.8,904.0 668.3,903.8 666.6,903.4C665.0,902.9 664.8,901.8 665.4,901.1C666.0,900.4 668.8,900.2 670.1,899.0C671.5,897.8 672.6,896.7 673.6,893.8C674.6,890.8 675.5,885.9 676.2,881.5C677.0,877.1 678.9,870.0 678.0,867.5C677.1,865.0 671.9,868.4 671.0,866.6C670.1,864.9 672.2,859.8 672.8,857.0C673.3,854.2 674.9,850.6 674.5,850.0C674.1,849.4 671.4,852.3 670.1,853.5C668.8,854.7 667.7,856.3 666.6,857.0C665.5,857.7 664.2,858.1 663.6,857.9C663.1,857.6 662.5,856.6 663.1,855.6C663.8,854.6 666.0,853.1 667.5,851.8C669.0,850.4 670.6,849.4 671.9,847.4C673.2,845.3 674.5,842.3 675.4,839.5C676.2,836.7 676.2,833.2 677.1,830.8C678.0,828.3 679.5,826.2 680.6,824.6C681.8,823.0 683.7,822.1 684.1,821.1C684.6,820.1 684.1,819.2 683.2,818.5C682.4,817.8 679.9,817.9 678.9,816.8C677.9,815.6 677.3,813.5 677.1,811.5C677.0,809.5 676.8,806.2 678.0,804.5C679.2,802.8 682.1,801.6 684.1,801.4Z"/>
<path d="M737.5,862.2C738.8,862.9 742.2,863.6 743.6,864.9C745.0,866.2 745.6,868.4 745.9,870.1C746.2,871.9 743.9,874.2 745.4,875.4C746.9,876.5 751.6,876.7 755.0,877.1C758.4,877.6 762.6,877.3 765.5,878.0C768.4,878.7 770.6,880.0 772.5,881.5C774.4,883.0 776.0,884.7 776.9,886.8C777.8,888.8 776.7,892.0 777.8,893.8C778.8,895.5 781.5,896.8 783.0,897.2C784.5,897.7 785.8,895.8 786.5,896.4C787.2,897.0 787.4,899.4 787.4,900.8C787.4,902.1 789.0,903.6 786.5,904.2C784.0,904.9 776.0,904.9 772.5,904.6C769.0,904.3 767.2,904.0 765.5,902.5C763.8,901.0 763.8,896.5 762.0,895.5C760.2,894.5 756.5,895.5 755.0,896.4C753.5,897.2 753.8,899.6 753.2,900.8C752.7,901.9 752.5,902.9 751.5,903.4C750.5,903.8 747.9,903.8 747.1,903.4C746.4,902.9 746.7,901.5 747.1,900.8C747.6,900.0 749.5,900.5 749.8,899.0C750.0,897.5 749.8,893.2 748.9,892.0C748.0,890.8 746.4,891.4 744.5,892.0C742.6,892.6 739.5,894.7 737.5,895.5C735.5,896.3 733.7,896.8 732.2,896.9C730.8,897.0 729.3,896.9 728.8,896.4C728.2,895.9 727.9,894.5 728.8,893.8C729.6,893.0 732.2,893.2 734.0,892.0C735.8,890.8 738.1,888.5 739.2,886.8C740.4,885.0 741.3,882.9 741.0,881.5C740.7,880.1 739.0,879.2 737.5,878.4C736.0,877.5 733.6,877.5 732.2,876.2C730.9,875.0 729.9,872.8 729.6,871.0C729.3,869.2 729.9,867.1 730.5,865.8C731.1,864.4 733.0,864.0 733.1,863.1C733.3,862.2 731.2,861.2 731.4,860.5C731.5,859.8 733.3,858.7 734.0,858.8C734.7,858.8 735.2,860.3 735.8,860.9C736.3,861.4 736.2,861.6 737.5,862.2Z"/>
</g>
<line x1="49.0" y1="813.0" x2="44.0" y2="903.0" stroke="#1b1919" stroke-width="1.6" stroke-opacity="0.88" stroke-linecap="round"/>
<path d="M467.2,863.0 L467.6,874.0 L468.2,883.6" fill="none" stroke="#fff" stroke-opacity="0.75" stroke-width="0.70" stroke-linecap="round"/>
<path d="M617.5,855.5 L618.6,865.9 L620.4,876.7 L621.1,883.9" fill="none" stroke="#fff" stroke-opacity="0.80" stroke-width="1.30" stroke-linecap="round"/>
<path d="M388.0,848.0 L387.8,870.0 L388.0,889.0" fill="none" stroke="#fff" stroke-opacity="0.60" stroke-width="0.60" stroke-linecap="round"/>
</g>

<!-- source -->
<text x="19.9" y="965.6" class="src" textLength="88.8" lengthAdjust="spacingAndGlyphs">Source:</text>
<text x="115.0" y="965.6" class="src" textLength="55.6" lengthAdjust="spacingAndGlyphs">NSO,</text>
<text x="178.0" y="965.6" class="src" textLength="67.6" lengthAdjust="spacingAndGlyphs">Nepal</text>
<text x="252.4" y="965.6" class="src" textLength="55.6" lengthAdjust="spacingAndGlyphs">2025</text>
<text x="316.9" y="965.6" class="src" textLength="135.0" lengthAdjust="spacingAndGlyphs">(Population</text>
<text x="460.0" y="965.6" class="src" textLength="127.0" lengthAdjust="spacingAndGlyphs">Projection)</text>

</svg>
</body></html>
